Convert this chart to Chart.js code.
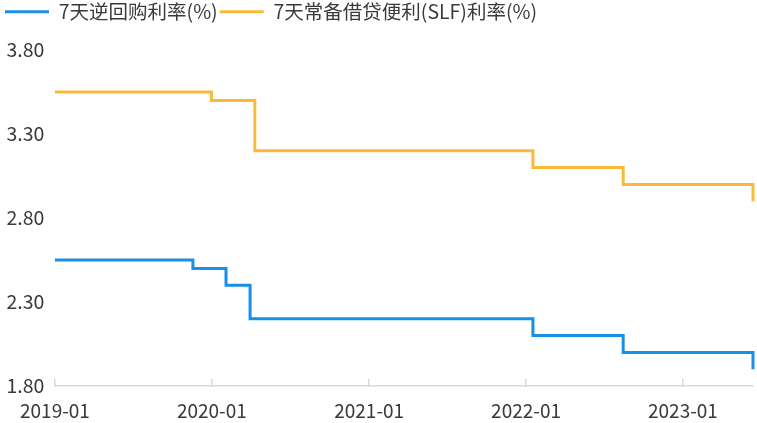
<!DOCTYPE html>
<html>
<head>
<meta charset="utf-8">
<script src="https://cdn.jsdelivr.net/npm/chart.js@4/dist/chart.umd.min.js"></script>
<style>
  body { margin: 0; background: #fff; }
  #wrap { width: 757px; height: 423px; }
</style>
</head>
<body>
<div id="wrap"><canvas id="rates" width="757" height="423"></canvas></div>
<script>
// policy rate changes (date of change, new rate)
const repoDates = ['2019-01-01', '2019-11-18', '2020-02-03', '2020-03-30', '2022-01-17', '2022-08-15', '2023-06-13'];
const repoRates = [2.55, 2.50, 2.40, 2.20, 2.10, 2.00, 1.90];
const slfDates = ['2019-01-01', '2019-12-31', '2020-04-10', '2022-01-17', '2022-08-15', '2023-06-13'];
const slfRates = [3.55, 3.50, 3.20, 3.10, 3.00, 2.90];
const xTickLabels = ['2019-01', '2020-01', '2021-01', '2022-01', '2023-01'];
const seriesNames = ['7天逆回购利率(%)', '7天常备借贷便利(SLF)利率(%)'];

const day = s => Date.parse(s) / 86400000;
const pts = (dates, vals) => dates.map((d, i) => ({ x: day(d), y: vals[i] }));

const FONT = "'Noto Sans CJK SC', 'Noto Sans', sans-serif";

const legendMargin = {
  id: 'legendMargin',
  beforeInit(chart) {
    const fit = chart.legend.fit;
    chart.legend.fit = function () {
      fit.bind(chart.legend)();
      this.height = 50;
    };
  }
};

new Chart(document.getElementById('rates'), {
  type: 'line',
  data: {
    datasets: [
      {
        label: seriesNames[0],
        data: pts(repoDates, repoRates),
        borderColor: '#1a8fe6',
        backgroundColor: '#1a8fe6',
        borderWidth: 3,
        stepped: true,
        pointRadius: 0,
        clip: false
      },
      {
        label: seriesNames[1],
        data: pts(slfDates, slfRates),
        borderColor: '#fbb939',
        backgroundColor: '#fbb939',
        borderWidth: 3,
        stepped: true,
        pointRadius: 0,
        clip: false
      }
    ]
  },
  options: {
    responsive: false,
    animation: false,
    layout: { padding: { left: 3, right: 4, top: 0, bottom: 0 } },
    plugins: {
      tooltip: { enabled: false },
      legend: {
        position: 'top',
        align: 'start',
        labels: {
          boxWidth: 44,
          boxHeight: 3,
          padding: 2,
          color: '#3a3a3a',
          font: { family: FONT, size: 19.5 },
          generateLabels(chart) {
            const items = Chart.defaults.plugins.legend.labels.generateLabels(chart);
            items.forEach(it => { it.lineWidth = 0; });
            return items;
          }
        }
      }
    },
    scales: {
      x: {
        type: 'linear',
        min: day(repoDates[0]),
        max: day(repoDates[repoDates.length - 1]),
        afterBuildTicks(scale) {
          scale.ticks = xTickLabels.map(l => ({ value: day(l + '-01') }));
        },
        afterFit(scale) { scale.height = 37; },
        grid: { display: true, drawOnChartArea: false, tickLength: -7, color: '#d9d9d9', lineWidth: 1.5 },
        border: { display: true, color: '#d9d9d9', width: 1.5 },
        ticks: {
          autoSkip: false,
          maxRotation: 0,
          padding: 20,
          color: '#3a3a3a',
          font: { family: FONT, size: 19 },
          callback(v, i) { return xTickLabels[i]; }
        }
      },
      y: {
        min: 1.8,
        max: 3.8,
        afterFit(scale) { scale.width = 48.5; },
        grid: { display: false },
        border: { display: false },
        ticks: {
          stepSize: 0.5,
          crossAlign: 'far',
          color: '#3a3a3a',
          font: { family: FONT, size: 19.5 },
          callback: v => v.toFixed(2)
        }
      }
    }
  },
  plugins: [legendMargin]
});
</script>
</body>
</html>
